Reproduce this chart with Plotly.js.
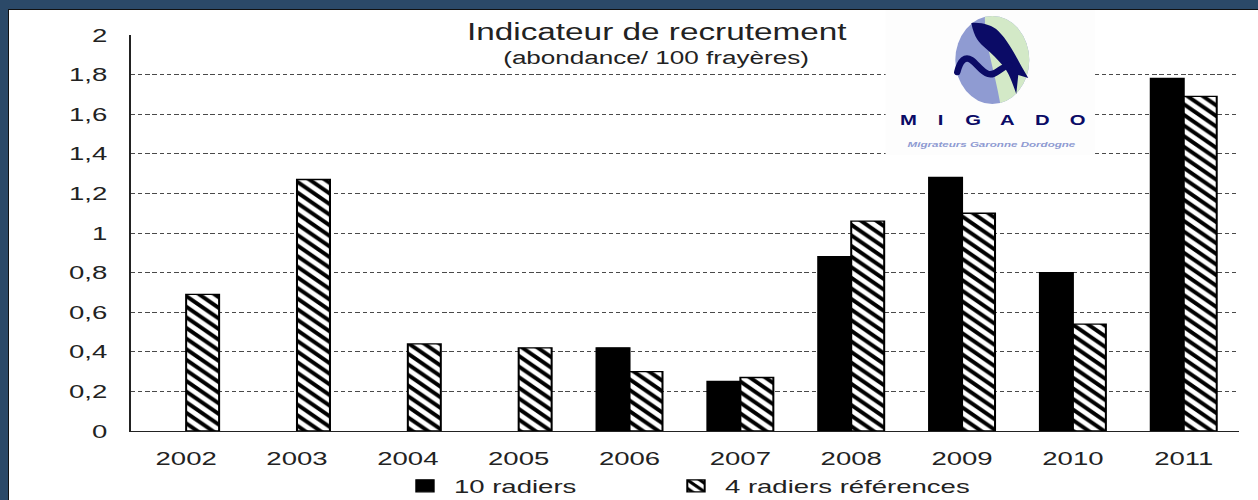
<!DOCTYPE html>
<html>
<head>
<meta charset="utf-8">
<script src="https://cdn.plot.ly/plotly-3.0.1.min.js"></script>
<style>
html, body {margin:0; padding:0; background:#2b4968; width:1258px; height:500px; overflow:hidden;}
#frame {position:absolute; left:8px; top:9px; width:1250px; height:491px;
        border-left:1px solid #111; border-top:1px solid #111; background:#fff;}
/* the original picture is stretched sideways, so the plot is drawn narrow and stretched */
#graph {position:absolute; left:0; top:0; width:862px; height:490px;
        transform:scaleX(1.44896); transform-origin:0 0;}
</style>
</head>
<body>
<div id="frame"><div id="graph"></div></div>
<script>
// data
var years = ['2002', '2003', '2004', '2005', '2006', '2007', '2008', '2009', '2010', '2011'];
var radiers10 = [null, null, null, null, 0.42, 0.25, 0.88, 1.28, 0.80, 1.78];
var radiersRef = [0.69, 1.27, 0.44, 0.42, 0.30, 0.27, 1.06, 1.10, 0.54, 1.69];
var seriesNames = ['10 radiers', '4 radiers références'];
var logoLetters = ['M', 'I', 'G', 'A', 'D', 'O'];

var font = '"Liberation Sans", Arial, sans-serif';
var S = 1249 / 862;   // sideways stretch

// page pixel -> paper coords (plot area is 130..1239 x 35..431 on the page)
function px(X) { return (X - 130) / 1109; }
function py(Y) { return (431 - Y) / 396; }
// page pixel -> container coords (frame content starts at 9,10)
function cx(X) { return (X - 9) / 1249; }
function cy(Y) { return (490 - (Y - 10)) / 490; }

var trace1 = {
  x: years,
  y: radiers10,
  type: 'bar',
  name: seriesNames[0],
  legend: 'legend',
  marker: {color: '#000', line: {color: '#000', width: 1.4}}
};

var trace2 = {
  x: years,
  y: radiersRef,
  type: 'bar',
  name: seriesNames[1],
  legend: 'legend2',
  marker: {
    color: '#fff',
    line: {color: '#000', width: 1.4},
    pattern: {shape: '\\', fgcolor: '#000', bgcolor: '#fff', size: 7.5, solidity: 0.45}
  }
};

// logo graphic only (its words are annotations)
var logoSvg =
  '<svg xmlns="http://www.w3.org/2000/svg" width="210" height="145" viewBox="0 0 210 145" preserveAspectRatio="none">' +
  '<rect width="210" height="145" fill="#fdfdfd"/>' +
  '<defs><clipPath id="c"><ellipse cx="107" cy="50" rx="37" ry="44"/></clipPath></defs>' +
  '<g clip-path="url(#c)">' +
  '<rect x="60" y="0" width="100" height="100" fill="#8f9bd2"/>' +
  '<path d="M100,0 C97,30 110,60 116,100 L160,100 L160,0 Z" fill="#d3e9c7"/>' +
  '</g>' +
  '<path d="M86,13 C96,12 107,15 113,21 C123,31 130,45 136,56 L143,68 L133,65 L131,84 ' +
  'C127,72 123,62 118,56 C112,49 106,43 100,38 C94,33 89,28 86,13 Z" fill="#0b0b66"/>' +
  '<path d="M72,62 C75,50 80,46 86,50 C92,54 96,62 103,64 C110,66 114,58 124,55" ' +
  'fill="none" stroke="#0b0b66" stroke-width="6.5" stroke-linecap="round"/>' +
  '</svg>';

var annotations = [
  {
    text: 'Indicateur de recrutement',
    xref: 'paper', yref: 'paper', x: px(657), y: py(32),
    xanchor: 'center', yanchor: 'middle', showarrow: false,
    bgcolor: '#fff', borderpad: 4,
    font: {family: font, size: 23, color: '#222'}
  },
  {
    text: '(abondance/ 100 frayères)',
    xref: 'paper', yref: 'paper', x: px(655), y: py(58),
    xanchor: 'center', yanchor: 'middle', showarrow: false,
    font: {family: font, size: 18, color: '#222'}
  },
  {
    text: '<b><i>Migrateurs Garonne Dordogne</i></b>',
    xref: 'paper', yref: 'paper', x: px(992), y: py(144),
    xanchor: 'center', yanchor: 'middle', showarrow: false,
    font: {family: font, size: 8, color: '#8f9bd2'}
  }
];
var letterX = [908, 940, 973, 1007, 1042, 1078];
logoLetters.forEach(function (l, i) {
  annotations.push({
    text: '<b>' + l + '</b>',
    xref: 'paper', yref: 'paper', x: px(letterX[i]), y: py(120),
    xanchor: 'center', yanchor: 'middle', showarrow: false,
    font: {family: font, size: 14, color: '#0b0b66'}
  });
});

function legendAt(X) {
  return {
    orientation: 'h',
    xref: 'container', yref: 'container',
    x: cx(X), xanchor: 'left',
    y: cy(486), yanchor: 'middle',
    font: {family: font, size: 19, color: '#222'},
    bgcolor: 'rgba(0,0,0,0)'
  };
}

var layout = {
  width: 862,
  height: 490,
  margin: {l: 121 / S, r: 19 / S, t: 25, b: 69, pad: 0},
  paper_bgcolor: '#fff',
  plot_bgcolor: '#fff',
  separators: ', ',
  barmode: 'group',
  bargap: 0.405,
  bargroupgap: 0,
  font: {family: font, size: 19, color: '#222'},
  showlegend: true,
  legend: legendAt(396),
  legend2: legendAt(667),
  xaxis: {
    type: 'category',
    showline: true, linecolor: '#222', linewidth: 1.4,
    showgrid: false, ticks: '',
    ticklabelstandoff: 10,
    tickfont: {family: font, size: 19, color: '#222'},
    fixedrange: true
  },
  yaxis: {
    range: [0, 2],
    dtick: 0.2,
    showline: true, linecolor: '#222', linewidth: 1.4,
    showgrid: true, gridcolor: '#4a4a4a', gridwidth: 1, griddash: '3px,2px',
    zeroline: false, ticks: '',
    ticklabelstandoff: 11,
    tickfont: {family: font, size: 19, color: '#222'},
    fixedrange: true
  },
  images: [{
    source: 'data:image/svg+xml;charset=utf-8,' + encodeURIComponent(logoSvg),
    xref: 'paper', yref: 'paper',
    x: px(885), y: py(10),
    sizex: 210 / 1109, sizey: 145 / 396,
    xanchor: 'left', yanchor: 'top',
    sizing: 'stretch', layer: 'above'
  }],
  annotations: annotations
};

Plotly.newPlot('graph', [trace1, trace2], layout, {displayModeBar: false, staticPlot: true});
</script>
</body>
</html>
